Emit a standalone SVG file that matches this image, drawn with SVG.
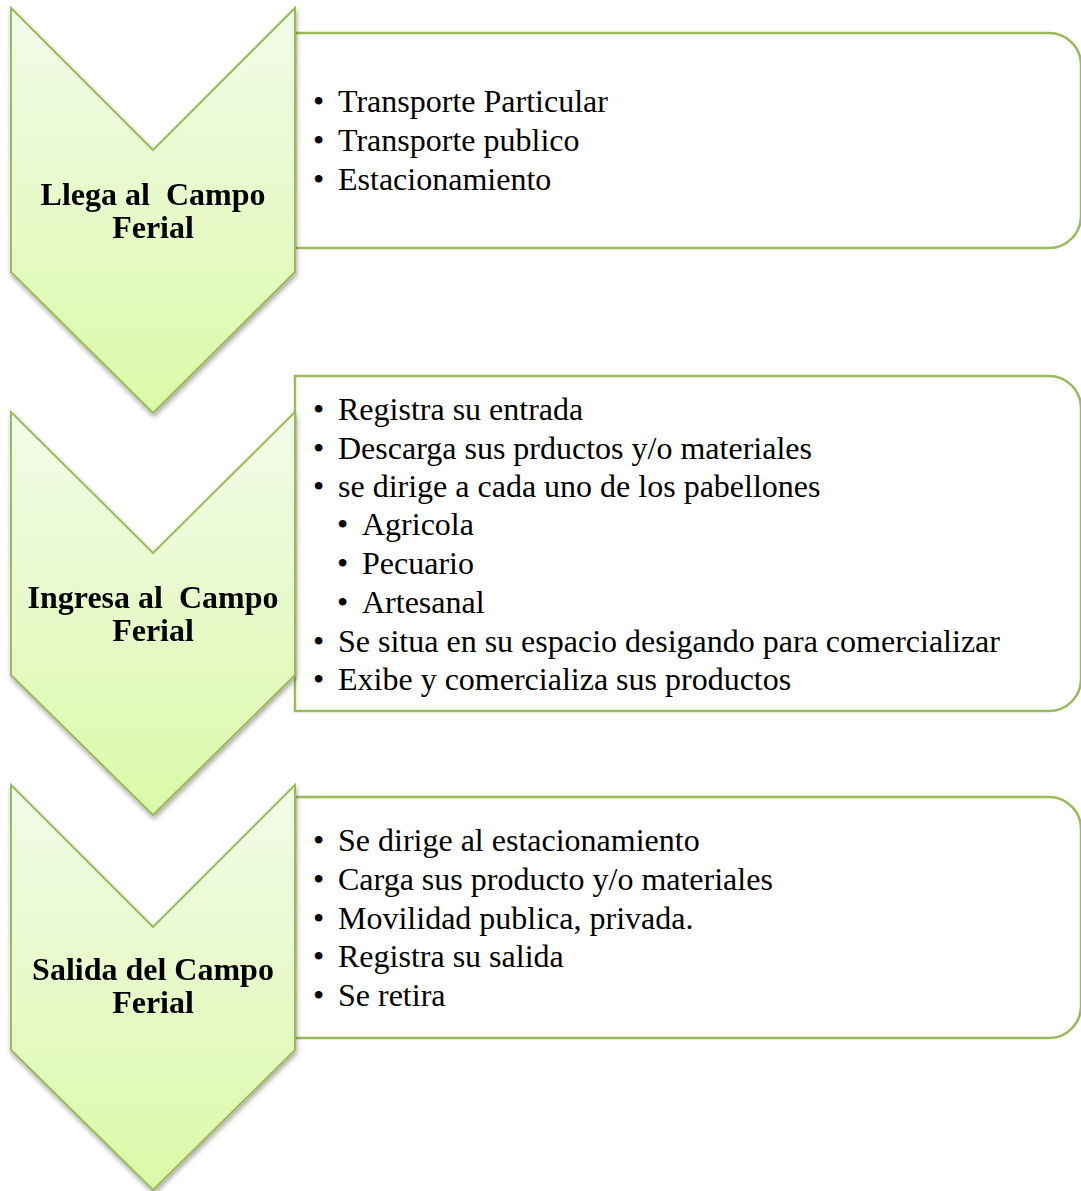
<svg xmlns="http://www.w3.org/2000/svg" width="1081" height="1191" viewBox="0 0 1081 1191">
<defs>
<linearGradient id="g" x1="0" y1="0" x2="0" y2="1">
<stop offset="0" stop-color="#f3fbea"/>
<stop offset="1" stop-color="#dbf9a8"/>
</linearGradient>
<filter id="sh" x="-10%" y="-10%" width="125%" height="125%">
<feGaussianBlur in="SourceAlpha" stdDeviation="2.5"/>
<feOffset dx="1" dy="3" result="b"/>
<feComponentTransfer><feFuncA type="linear" slope="0.35"/></feComponentTransfer>
<feMerge><feMergeNode/><feMergeNode in="SourceGraphic"/></feMerge>
</filter>
</defs>
<style>
.chev{fill:url(#g);stroke:#9bbb59;stroke-width:2;stroke-linejoin:miter}
.box{fill:#ffffff;stroke:#9bbb59;stroke-width:2.5}
.lab{font-family:"Liberation Serif","Times New Roman",serif;font-weight:bold;font-size:32px;fill:#000;text-anchor:middle;white-space:pre}
.it{font-family:"Liberation Serif","Times New Roman",serif;font-size:32px;fill:#000}
</style>
<g id="connectors"></g>
<g id="box1">
<path class="box" d="M295,33 H1049 A32,32 0 0 1 1081,65 V216 A32,32 0 0 1 1049,248 H295 Z"/>
<text class="it" x="313" y="112">•</text><text class="it" x="338" y="112">Transporte Particular</text>
<text class="it" x="313" y="151">•</text><text class="it" x="338" y="151">Transporte publico</text>
<text class="it" x="313" y="190">•</text><text class="it" x="338" y="190">Estacionamiento</text>
</g>
<g id="box2">
<path class="box" d="M295,376 H1049 A32,32 0 0 1 1081,408 V679 A32,32 0 0 1 1049,711 H295 Z"/>
<text class="it" x="313" y="420">•</text><text class="it" x="338" y="420">Registra su entrada</text>
<text class="it" x="313" y="459">•</text><text class="it" x="338" y="459">Descarga sus prductos y/o materiales</text>
<text class="it" x="313" y="497">•</text><text class="it" x="338" y="497">se dirige a cada uno de los pabellones</text>
<text class="it" x="337" y="535">•</text><text class="it" x="362" y="535">Agricola</text>
<text class="it" x="337" y="574">•</text><text class="it" x="362" y="574">Pecuario</text>
<text class="it" x="337" y="613">•</text><text class="it" x="362" y="613">Artesanal</text>
<text class="it" x="313" y="652">•</text><text class="it" x="338" y="652">Se situa en su espacio desigando para comercializar</text>
<text class="it" x="313" y="690">•</text><text class="it" x="338" y="690">Exibe y comercializa sus productos</text>
</g>
<g id="box3">
<path class="box" d="M295,797 H1049 A32,32 0 0 1 1081,829 V1006 A32,32 0 0 1 1049,1038 H295 Z"/>
<text class="it" x="313" y="851">•</text><text class="it" x="338" y="851">Se dirige al estacionamiento</text>
<text class="it" x="313" y="890">•</text><text class="it" x="338" y="890">Carga sus producto y/o materiales</text>
<text class="it" x="313" y="929">•</text><text class="it" x="338" y="929">Movilidad publica, privada.</text>
<text class="it" x="313" y="967">•</text><text class="it" x="338" y="967">Registra su salida</text>
<text class="it" x="313" y="1006">•</text><text class="it" x="338" y="1006">Se retira</text>
</g>
<g id="step1" filter="url(#sh)">
<path class="chev" d="M11,8 L153,150 L295,8 V272 L153,413 L11,272 Z"/>
<text class="lab" x="153" y="205">Llega al  Campo<tspan x="153" dy="33">Ferial</tspan></text>
</g>
<g id="step2" filter="url(#sh)">
<path class="chev" d="M11,412 L153,553 L295,412 V675 L153,815 L11,675 Z"/>
<text class="lab" x="153" y="608">Ingresa al  Campo<tspan x="153" dy="33">Ferial</tspan></text>
</g>
<g id="step3" filter="url(#sh)">
<path class="chev" d="M11,785 L153,927 L295,785 V1050 L153,1190 L11,1050 Z"/>
<text class="lab" x="153" y="980">Salida del Campo<tspan x="153" dy="33">Ferial</tspan></text>
</g>
</svg>
